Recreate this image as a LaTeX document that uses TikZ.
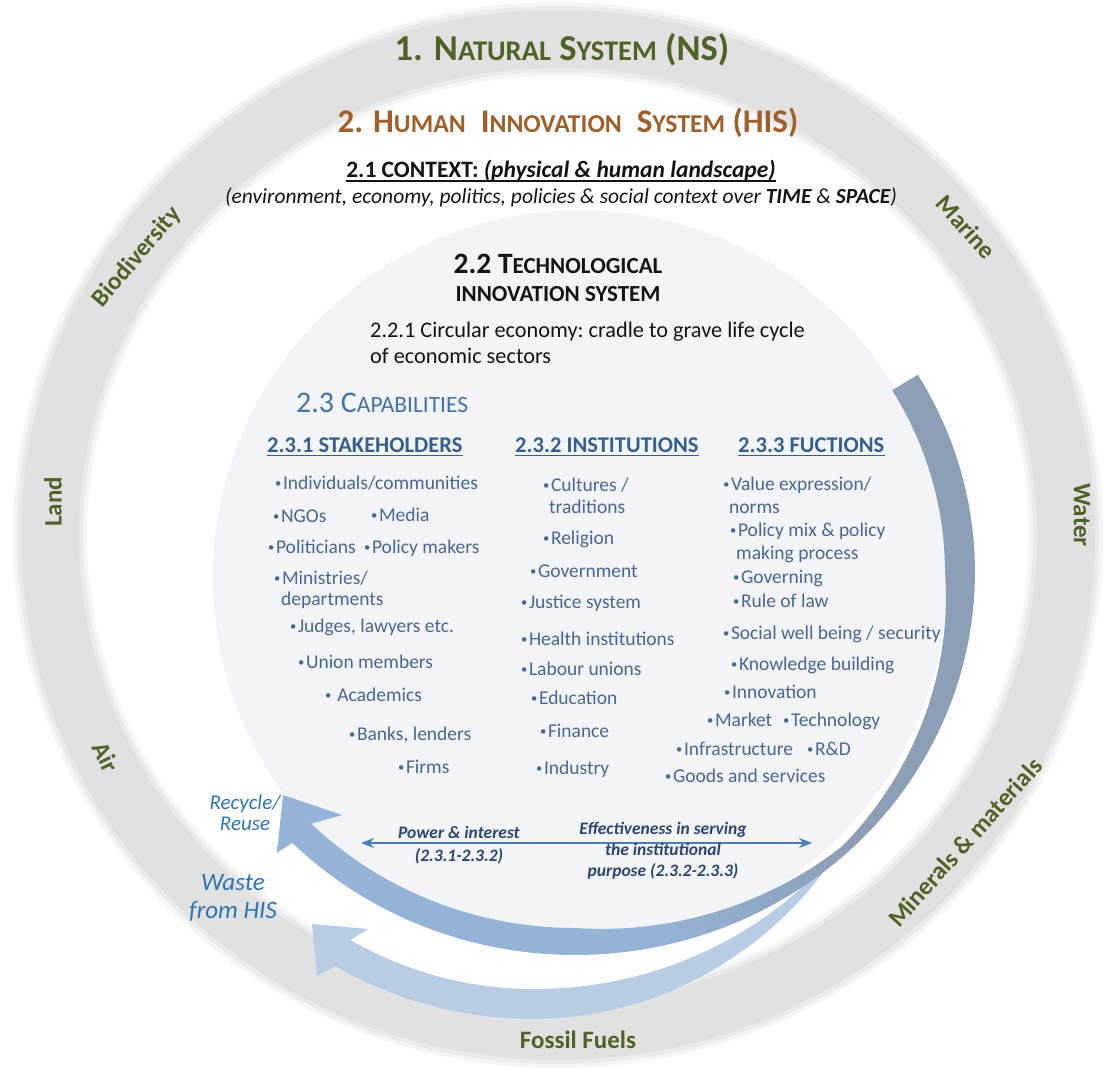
\documentclass[tikz,border=0pt]{standalone}
\usepackage{fontspec}
\setmainfont{Carlito}
\usepackage{graphicx}
\usepackage{tikz}
\usetikzlibrary{arrows.meta}

\definecolor{nsgreen}{RGB}{79,98,40}
\definecolor{hisbrown}{RGB}{160,96,44}
\definecolor{ringgray}{RGB}{225,225,225}
\definecolor{palebg}{RGB}{242,244,248}
\definecolor{arcblue}{RGB}{149,179,215}
\definecolor{arcslate}{RGB}{141,159,182}
\definecolor{arclight}{RGB}{184,204,228}
\definecolor{itemblue}{RGB}{72,102,150}
\definecolor{headblue}{RGB}{54,95,145}
\definecolor{capblue}{RGB}{68,114,173}
\definecolor{navy}{RGB}{44,70,115}
\definecolor{wasteblue}{RGB}{46,117,182}
\definecolor{dblblue}{RGB}{74,126,187}
\definecolor{inkblack}{RGB}{20,20,20}

\pgfdeclarehorizontalshading{arcshade}{100bp}{color(0bp)=(arcblue); color(52bp)=(arcblue); color(66bp)=(arcslate); color(100bp)=(arcslate)}

\newcommand{\smcap}[1]{\scalebox{0.78}{#1}}
\newcommand{\bul}{\raisebox{0.12em}{\scalebox{0.65}{\textbullet}}\hspace{1.5pt}}

\tikzset{
  ringlabel/.style={inner sep=0pt, text=nsgreen, font=\fontsize{25}{30}\selectfont\bfseries},
  item/.style={anchor=mid west, inner sep=0pt, text=itemblue, font=\fontsize{19.5}{23}\selectfont},
  colhead/.style={anchor=base west, inner sep=0pt, text=headblue, font=\fontsize{22.5}{26}\selectfont\bfseries},
  arrowtext/.style={align=center, inner sep=0pt, text=navy, font=\fontsize{17.5}{21}\selectfont\bfseries\itshape},
  flowtext/.style={align=center, inner sep=0pt, text=wasteblue, font=\itshape},
}

\begin{document}
\begin{tikzpicture}[x=1pt, y=-1pt,
  declare function={
    wa(\t)=(\t<=0)?30:((\t<=47)?(30-22*\t/47):min(27,8+19*(\t-47)/43));
    wb(\t)=30*sin(min(90,(\t-36)*1.6));
  }]
\useasboundingbox (0,0) rectangle (1106,1068);
\fill[white] (0,0) rectangle (1106,1068);

\draw[ringgray, line width=74pt, opacity=0.3] (558,535) ellipse [x radius=508pt, y radius=496pt];
\draw[ringgray, line width=66pt, opacity=0.55] (558,535) ellipse [x radius=508pt, y radius=496pt];
\draw[ringgray, line width=58pt] (558,535) ellipse [x radius=508pt, y radius=496pt];

\fill[palebg] (580,577) circle [radius=367pt];

\fill[arclight] plot[domain=36:120, samples=60, variable=\t] ({533+(380+wb(\t)/2)*cos(\t)}, {624+(380+wb(\t)/2)*sin(\t)})
  -- (317,976) -- (312,924) -- (368,929)
  -- plot[domain=120:36, samples=60, variable=\t] ({533+(380-wb(\t)/2)*cos(\t)}, {624+(380-wb(\t)/2)*sin(\t)}) -- cycle;

\shade[shading=arcshade] plot[domain=-31:135, samples=90, variable=\t] ({575+400*cos(\t)}, {572+383*sin(\t)})
  -- (277,853) -- (283,795) -- (342,815)
  -- plot[domain=135:-31, samples=90, variable=\t] ({575+(400-wa(\t))*cos(\t)}, {572+(383-wa(\t))*sin(\t)}) -- cycle;

\node[ringlabel] (ns) [anchor=base] at (562,60) {\fontsize{36.5}{40}\selectfont 1. N\smcap{ATURAL} S\smcap{YSTEM} (NS)};
\node[ringlabel, text=hisbrown] (his) [anchor=base] at (568,132) {\fontsize{33}{38}\selectfont 2. H\smcap{UMAN}\ \ I\smcap{NNOVATION}\ \ S\smcap{YSTEM} (HIS)};

\node[anchor=base, inner sep=0pt, text=inkblack, font=\fontsize{23.5}{27}\selectfont\bfseries] (ctx) at (561,177) {2.1 CONTEXT: \textit{(physical \& human landscape)}};
\draw[inkblack, line width=1.8pt] ([yshift=-4pt]ctx.base west) -- ([yshift=-4pt]ctx.base east);
\node[anchor=base, inner sep=0pt, text=inkblack, font=\fontsize{21.5}{25}\selectfont\itshape] (ctxnote) at (561,203) {(environment, economy,\ politics, policies \& social context over \textbf{TIME} \& \textbf{SPACE})};

\node[anchor=base, inner sep=0pt, text=inkblack, font=\fontsize{29.5}{34}\selectfont\bfseries] (tis) at (558,273) {2.2 T\smcap{ECHNOLOGICAL}};
\node[anchor=base, inner sep=0pt, text=inkblack, font=\fontsize{23}{27}\selectfont\bfseries] (tisb) at (558,301) {INNOVATION SYSTEM};
\node[anchor=base west, inner sep=0pt, text=inkblack, font=\fontsize{22.3}{26}\selectfont] (circ) at (370,337) {2.2.1 Circular economy:\ cradle to grave life cycle};
\node[anchor=base west, inner sep=0pt, text=inkblack, font=\fontsize{22.3}{26}\selectfont] (circb) at (370,363) {of economic sectors};

\node[anchor=base west, inner sep=0pt, text=capblue, font=\fontsize{30}{34}\selectfont] (cap) at (296,412) {2.3 C\smcap{APABILITIES}};

\node[colhead] (stake) at (267,452) {2.3.1 STAKEHOLDERS};
\node[colhead] (inst) at (515,452) {2.3.2 INSTITUTIONS};
\node[colhead] (func) at (738,452) {2.3.3\ FUCTIONS};
\draw[headblue, line width=1.4pt] ([yshift=-3.5pt]stake.base west) -- ([yshift=-3.5pt]stake.base east);
\draw[headblue, line width=1.4pt] ([yshift=-3.5pt]inst.base west) -- ([yshift=-3.5pt]inst.base east);
\draw[headblue, line width=1.4pt] ([yshift=-3.5pt]func.base west) -- ([yshift=-3.5pt]func.base east);

\node[item] (s1) at (275,487) {\bul Individuals/communities};
\node[item] (s2) at (273,520) {\bul NGOs};
\node[item] (s3) at (371,519) {\bul Media};
\node[item] (s4) at (268,551) {\bul Politicians};
\node[item] (s5) at (364,551) {\bul Policy makers};
\node[item] (s6) at (274,582) {\bul Ministries/};
\node[item] (s6b) at (281,603) {departments};
\node[item] (s7) at (290,630) {\bul Judges, lawyers etc.};
\node[item] (s8) at (298,666) {\bul Union members};
\node[item] (s9) at (325,699) {\bul\ Academics};
\node[item] (s10) at (349,738) {\bul Banks, lenders};
\node[item] (s11) at (398,771) {\bul Firms};

\node[item] (i1) at (543,489) {\bul Cultures /};
\node[item] (i1b) at (549,511) {traditions};
\node[item] (i2) at (543,542) {\bul Religion};
\node[item] (i3) at (530,575) {\bul Government};
\node[item] (i4) at (521,606) {\bul Justice system};
\node[item] (i5) at (521,643) {\bul Health institutions};
\node[item] (i6) at (521,673) {\bul Labour unions};
\node[item] (i7) at (531,702) {\bul Education};
\node[item] (i8) at (540,735) {\bul Finance};
\node[item] (i9) at (536,772) {\bul Industry};

\node[item] (f1) at (723,488) {\bul Value expression/};
\node[item] (f1b) at (729,511) {norms};
\node[item] (f2) at (730,534) {\bul Policy mix \& policy};
\node[item] (f2b) at (736,557) {making process};
\node[item] (f3) at (733,581) {\bul Governing};
\node[item] (f4) at (733,605) {\bul Rule of law};
\node[item] (f5) at (723,637) {\bul Social well being / security};
\node[item] (f6) at (731,668) {\bul Knowledge building};
\node[item] (f7) at (724,696) {\bul Innovation};
\node[item] (f8) at (707,724) {\bul Market};
\node[item] (f9) at (783,724) {\bul Technology};
\node[item] (f10) at (676,753) {\bul Infrastructure};
\node[item] (f11) at (807,753) {\bul R\&D};
\node[item] (f12) at (665,780) {\bul Goods and services};

\coordinate (pl) at (361,843);
\coordinate (pr) at (812,843);
\draw[dblblue, line width=2.4pt, {Stealth[length=13pt,width=10pt]}-{Stealth[length=13pt,width=10pt]}] (pl) -- (pr);
\node[arrowtext] (power) at (459,845) {Power \& interest\\[2pt](2.3.1-2.3.2)};
\node[arrowtext] (effect) at (663,851) {Effectiveness in serving\\the institutional\\purpose (2.3.2-2.3.3)};

\node[flowtext, font=\fontsize{21}{21}\selectfont\itshape] (recycle) at (245,813) {Recycle/\\Reuse};
\node[flowtext, font=\fontsize{25}{28}\selectfont\itshape] (waste) at (233,898) {Waste\\from HIS};

\node[ringlabel, rotate=50] (bio) at (137,257) {Biodiversity};
\node[ringlabel, rotate=-48] (marine) at (966,227) {Marine};
\node[ringlabel, rotate=90] (land) at (53,502) {Land};
\node[ringlabel, rotate=-90] (water) at (1082,515) {Water};
\node[ringlabel, rotate=-64] (air) at (106,757) {Air};
\node[ringlabel, rotate=48] (minerals) at (965,842) {Minerals \& materials};
\node[ringlabel] (fossil) at (578,1040) {Fossil Fuels};

\end{tikzpicture}
\end{document}
